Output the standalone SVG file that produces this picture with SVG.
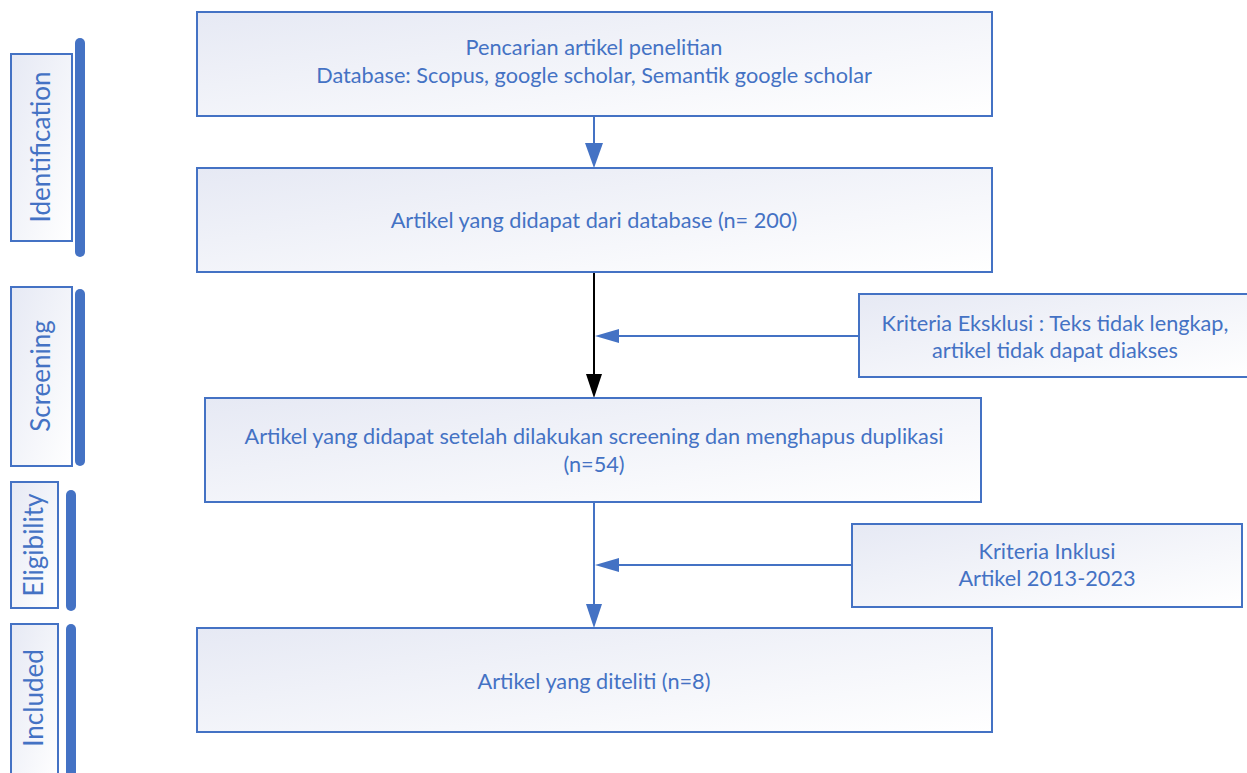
<svg xmlns="http://www.w3.org/2000/svg" width="1247" height="773" viewBox="0 0 1247 773">
<style>
.box{fill:url(#g);stroke:#4472C4;stroke-width:2}
.bar{stroke:#4472C4;stroke-width:10;stroke-linecap:round;fill:none}
.t{font-family:Lato,"Open Sans","Liberation Sans",sans-serif;font-size:21.7px;fill:#4472C4;text-anchor:middle}
.s{font-family:Lato,"Open Sans","Liberation Sans",sans-serif;font-size:26px;fill:#4472C4;text-anchor:middle}
.c{stroke:#4472C4;stroke-width:2;fill:none}
</style>
<defs>
<linearGradient id="g" x1="0" y1="0" x2="1" y2="1">
<stop offset="0" stop-color="#e6e9f4"/>
<stop offset="1" stop-color="#ffffff"/>
</linearGradient>
</defs>
<rect width="1247" height="773" fill="#fff"/>

<g id="stage-identification">
<rect class="box" x="11" y="54" width="61" height="187"/>
<line class="bar" x1="80" y1="43" x2="80" y2="252"/>
<text class="s" transform="translate(50,147) rotate(-90)">Identification</text>
</g>
<g id="stage-screening">
<rect class="box" x="11" y="287" width="61" height="179"/>
<line class="bar" x1="80" y1="294" x2="80" y2="461"/>
<text class="s" transform="translate(50,376) rotate(-90)">Screening</text>
</g>
<g id="stage-eligibility">
<rect class="box" x="11" y="482" width="47" height="126"/>
<line class="bar" x1="71" y1="495" x2="71" y2="606"/>
<text class="s" transform="translate(43,545) rotate(-90)">Eligibility</text>
</g>
<g id="stage-included">
<rect class="box" x="11" y="624" width="47" height="160"/>
<line class="bar" x1="71" y1="629" x2="71" y2="790"/>
<text class="s" transform="translate(43,698) rotate(-90)">Included</text>
</g>

<g id="connectors">
<line class="c" x1="594" y1="116" x2="594" y2="145"/>
<path d="M585,143 L603,143 L594,168 z" fill="#4472C4"/>
<line x1="594" y1="272" x2="594" y2="375" stroke="#000" stroke-width="2"/>
<path d="M586,374 L602,374 L594,398 z" fill="#000"/>
<line class="c" x1="859" y1="336" x2="615" y2="336"/>
<path d="M619,329 L619,343 L595,336 z" fill="#4472C4"/>
<line class="c" x1="594" y1="502" x2="594" y2="605"/>
<path d="M586,604 L602,604 L594,628 z" fill="#4472C4"/>
<line class="c" x1="852" y1="565" x2="615" y2="565"/>
<path d="M619,558 L619,572 L595,565 z" fill="#4472C4"/>
</g>

<g id="n1">
<rect class="box" x="197" y="12" width="795" height="104"/>
<text class="t" x="594" y="55">Pencarian artikel penelitian</text>
<text class="t" x="594" y="83">Database: Scopus, google scholar, Semantik google scholar</text>
</g>
<g id="n2">
<rect class="box" x="197" y="168" width="795" height="104"/>
<text class="t" x="594" y="228">Artikel yang didapat dari database (n= 200)</text>
</g>
<g id="n3">
<rect class="box" x="205" y="398" width="776" height="104"/>
<text class="t" x="594" y="444">Artikel yang didapat setelah dilakukan screening dan menghapus duplikasi</text>
<text class="t" x="594" y="472">(n=54)</text>
</g>
<g id="n4">
<rect class="box" x="197" y="628" width="795" height="104"/>
<text class="t" x="594" y="689">Artikel yang diteliti (n=8)</text>
</g>
<g id="excl">
<rect class="box" x="859" y="294" width="395" height="83"/>
<text class="t" x="1055" y="331">Kriteria Eksklusi : Teks tidak lengkap,</text>
<text class="t" x="1055" y="358">artikel tidak dapat diakses</text>
</g>
<g id="incl">
<rect class="box" x="852" y="524" width="390" height="83"/>
<text class="t" x="1047" y="559">Kriteria Inklusi</text>
<text class="t" x="1047" y="586">Artikel 2013-2023</text>
</g>
</svg>
